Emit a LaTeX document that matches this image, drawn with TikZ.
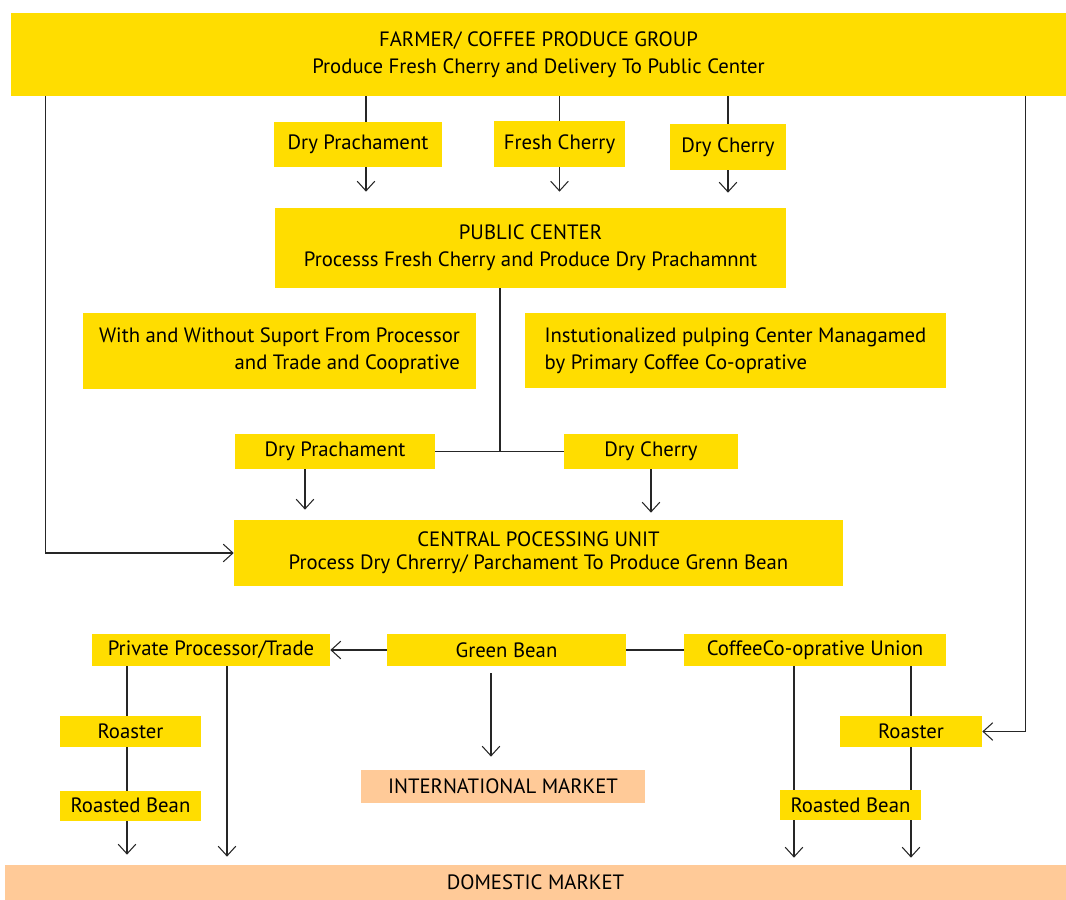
\documentclass[tikz,border=0pt]{standalone}
\usepackage{fontspec}
\setmainfont{PT Sans}
\usetikzlibrary{arrows.meta,backgrounds}
\definecolor{boxyellow}{RGB}{255,221,0}
\definecolor{marketpeach}{RGB}{255,202,152}
\tikzset{
	ybox/.style={fill=boxyellow, inner sep=0pt, align=center, font=\fontsize{11.8}{15.5}\selectfont},
	pbox/.style={ybox, fill=marketpeach},
	flow/.style={line width=0.6pt, black!85},
	arr/.style={flow, -{Straight Barb[length=5.5pt,width=10pt]}},
}

\begin{document}
\begin{tikzpicture}[x=0.02cm, y=-0.02cm]
		%%%%% START %%%%%
		\useasboundingbox (0,0) rectangle (1066,900);
		
		% top rows
		\node[ybox, minimum width=21.1cm, minimum height=1.66cm] (farmer) at (538.5,54.5) {FARMER/ COFFEE PRODUCE GROUP\\Produce Fresh Cherry and Delivery To Public Center};
		\node[ybox, minimum width=3.36cm, minimum height=0.9cm] (dpA) at (358,144.5) {Dry Prachament};
		\node[ybox, minimum width=2.62cm, minimum height=0.92cm] (fcA) at (559.5,144) {Fresh Cherry};
		\node[ybox, minimum width=2.32cm, minimum height=0.92cm] (dcA) at (728,147) {Dry Cherry};
		\node[ybox, minimum width=10.22cm, minimum height=1.6cm] (pub) at (530.5,248) {PUBLIC CENTER\\Processs Fresh Cherry and Produce Dry Prachamnnt};
		\node[ybox, align=right, minimum width=7.86cm, minimum height=1.52cm] (withb) at (279.5,351) {With and Without Suport From Processor\\and Trade and Cooprative};
		\node[ybox, align=left, minimum width=8.42cm, minimum height=1.5cm] (inst) at (735.5,350.5) {Instutionalized pulping Center Managamed\\by Primary Coffee Co-oprative};
		\node[ybox, minimum width=4cm, minimum height=0.7cm] (dpB) at (335,451.5) {Dry Prachament};
		\node[ybox, minimum width=3.48cm, minimum height=0.7cm] (dcB) at (651,451.5) {Dry Cherry};
		\node[ybox, font=\fontsize{11.8}{13.2}\selectfont, minimum width=12.18cm, minimum height=1.32cm] (cpu) at (538.5,553) {CENTRAL POCESSING UNIT\\Process Dry Chrerry/ Parchament To Produce Grenn Bean};
		
		% bottom rows
		\node[ybox, minimum width=4.76cm, minimum height=0.64cm] (ppt) at (211,650) {Private Processor/Trade};
		\node[ybox, minimum width=4.78cm, minimum height=0.64cm] (gb) at (506.5,650) {Green Bean};
		\node[ybox, minimum width=5.24cm, minimum height=0.64cm] (ccu) at (815,650) {CoffeeCo-oprative Union};
		\node[pbox, minimum width=5.68cm, minimum height=0.66cm] (intl) at (503,786.5) {INTERNATIONAL MARKET};
		\node[ybox, minimum width=2.82cm, minimum height=0.62cm] (rA) at (130.5,731.5) {Roaster};
		\node[ybox, minimum width=2.82cm, minimum height=0.6cm] (rbA) at (130.5,805.5) {Roasted Bean};
		\node[ybox, minimum width=2.84cm, minimum height=0.62cm] (rB) at (911,731.5) {Roaster};
		\node[ybox, minimum width=2.82cm, minimum height=0.6cm] (rbB) at (850.5,805) {Roasted Bean};
		\node[pbox, minimum width=21.22cm, minimum height=0.7cm] (dom) at (535.5,882.5) {DOMESTIC MARKET};
		
		\coordinate (lfoot) at ([xshift=0.7cm]farmer.south west);
		\coordinate (rfoot) at ([xshift=-0.82cm]farmer.south east);
		\coordinate (jn) at ([xshift=-0.61cm]pub.south |- dpB.east);
		
		\begin{scope}[on background layer]
		\draw[flow] ([xshift=0.16cm]dpA.north) -- ([xshift=0.16cm]dpA.north |- farmer.south);
		\draw[arr, shorten >=0.32cm] ([xshift=0.16cm]dpA.south) -- ([xshift=0.16cm]dpA.south |- pub.north);
		\draw[flow] (fcA.north) -- (fcA.north |- farmer.south);
		\draw[arr, shorten >=0.32cm] (fcA.south) -- (fcA.south |- pub.north);
		\draw[flow] (dcA.north) -- (dcA.north |- farmer.south);
		\draw[arr, shorten >=0.3cm] (dcA.south) -- (dcA.south |- pub.north);
		
		\draw[arr] (lfoot) |- (cpu.west);
		\draw[arr] (rfoot) |- (rB.east);
		
		\draw[flow] ([xshift=-0.61cm]pub.south) -- (jn);
		\draw[flow] (dpB.east) -- (dcB.west);
		\draw[arr, shorten >=0.2cm] ([xshift=-0.6cm]dpB.south) -- ([xshift=-0.6cm]dpB.south |- cpu.north);
		\draw[arr, shorten >=0.14cm] (dcB.south) -- (dcB.south |- cpu.north);
		
		\draw[arr] (gb.west) -- (ppt.east);
		\draw[flow] (gb.east) -- (ccu.west);
		\draw[arr, shorten <=0.14cm, shorten >=0.26cm] ([xshift=-0.31cm]gb.south) -- ([xshift=-0.31cm]gb.south |- intl.north);
		
		\draw[arr, shorten >=0.2cm] ([xshift=-0.07cm]rA |- ppt.south) -- ([xshift=-0.07cm]rA |- dom.north);
		\draw[arr, shorten >=0.16cm] ([xshift=0.32cm]ppt.south) -- ([xshift=0.32cm]ppt.south |- dom.north);
		\draw[arr, shorten >=0.14cm] ([xshift=-0.42cm]ccu.south) -- ([xshift=-0.42cm]ccu.south |- dom.north);
		\draw[arr, shorten >=0.14cm] (rB |- ccu.south) -- (rB |- dom.north);
		\end{scope}
		%%%%% END %%%%%
\end{tikzpicture}
\end{document}
